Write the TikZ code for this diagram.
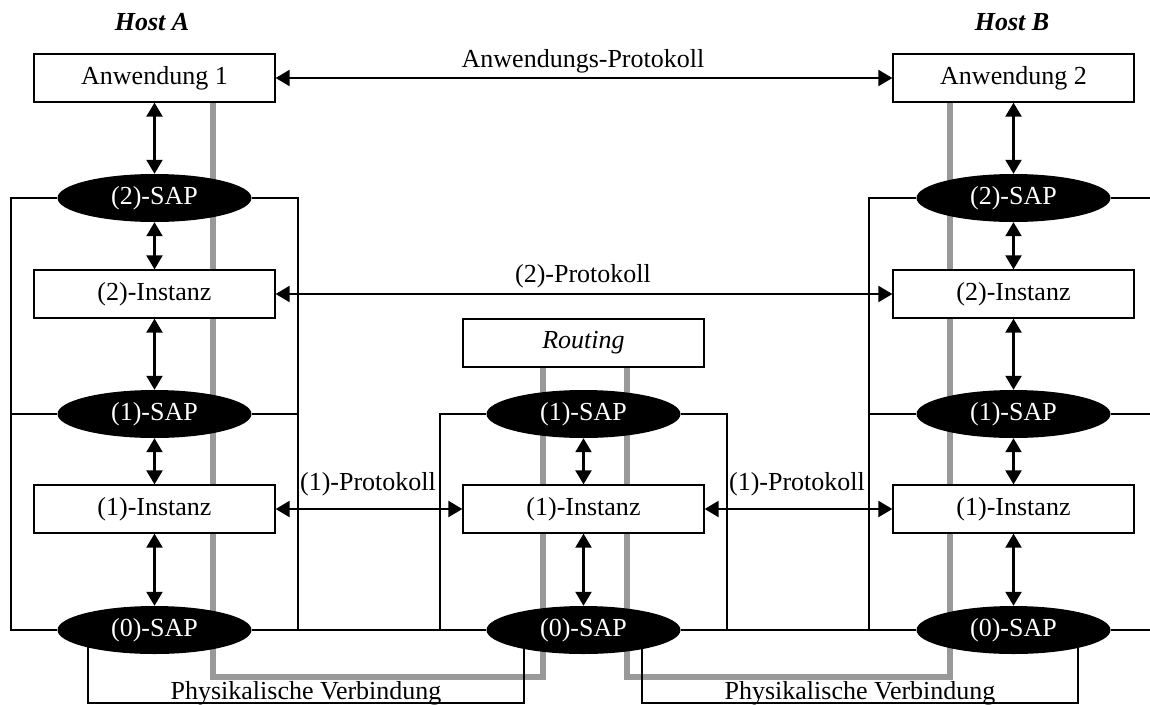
\documentclass[tikz,border=0pt]{standalone}
\usepackage{fontspec}
\setmainfont{Liberation Serif}
\usetikzlibrary{arrows.meta,shapes.geometric,backgrounds}
\definecolor{physgray}{RGB}{153,153,153}
\begin{document}
\begin{tikzpicture}[x=1pt,y=-1pt,
  font=\fontsize{26}{30}\selectfont,
  box/.style={draw, line width=1.3pt, fill=white, minimum width=241pt, minimum height=48pt, inner sep=0pt},
  sap/.style={ellipse, fill=black, text=white, minimum width=194pt, minimum height=48pt, inner sep=0pt},
  frame/.style={line width=1.4pt},
  arr/.style={line width=2.2pt, {Triangle[length=14pt,width=16pt]}-{Triangle[length=14pt,width=16pt]}},
  phys/.style={line width=6pt, draw=physgray, line join=miter},
  lbl/.style={inner sep=0pt},
  host/.style={inner sep=0pt, font=\fontsize{26}{30}\selectfont\bfseries\itshape}
]
\useasboundingbox (0,0) rectangle (1150,704);

% hosts
\node[host] (hostA) at (152,22) {Host A};
\node[host] (hostB) at (1012,22) {Host B};

% host A
\node[box] (anw1) at (154.5,78) {Anwendung 1};
\node[sap] (sap2A) at (154.5,198) {(2)-SAP};
\node[box] (inst2A) at (154.5,294) {(2)-Instanz};
\node[sap] (sap1A) at (154.5,414) {(1)-SAP};
\node[box] (inst1A) at (154.5,509) {(1)-Instanz};
\node[sap] (sap0A) at (154.5,630) {(0)-SAP};

% router
\node[box] (rout) at (583.5,343) {\itshape Routing};
\node[sap] (sap1M) at (583.5,414) {(1)-SAP};
\node[box] (inst1M) at (583.5,509) {(1)-Instanz};
\node[sap] (sap0M) at (583.5,630) {(0)-SAP};

% host B
\node[box] (anw2) at (1013.5,78) {Anwendung 2};
\node[sap] (sap2B) at (1013.5,198) {(2)-SAP};
\node[box] (inst2B) at (1013.5,294) {(2)-Instanz};
\node[sap] (sap1B) at (1013.5,414) {(1)-SAP};
\node[box] (inst1B) at (1013.5,509) {(1)-Instanz};
\node[sap] (sap0B) at (1013.5,630) {(0)-SAP};

% labels
\node[lbl] (lAP) at (583,61) {Anwendungs-Protokoll};
\node[lbl] (l2P) at (583,276) {(2)-Protokoll};
\node[lbl] (l1PA) at (368,484) {(1)-Protokoll};
\node[lbl] (l1PB) at (797,484) {(1)-Protokoll};
\node[lbl, anchor=base] (ph1) at (306,699) {Physikalische Verbindung};
\node[lbl, anchor=base] (ph2) at (860,699) {Physikalische Verbindung};

% vertical arrows
\foreach \a/\b in {anw1/sap2A, sap2A/inst2A, inst2A/sap1A, sap1A/inst1A, inst1A/sap0A,
                   sap1M/inst1M, inst1M/sap0M,
                   anw2/sap2B, sap2B/inst2B, inst2B/sap1B, sap1B/inst1B, inst1B/sap0B}
  \draw[arr] (\a.south) -- (\b.north);

% horizontal arrows
\draw[arr] (anw1.east) -- (anw2.west);
\draw[arr] (inst2A.east) -- (inst2B.west);
\draw[arr] (inst1A.east) -- (inst1M.west);
\draw[arr] (inst1M.east) -- (inst1B.west);

\begin{scope}[on background layer]
  % physical path (gray)
  \draw[phys] (213,102) -- (213,677) -- (543,677) -- (543,533);
  \draw[phys] (543,366) -- (543,485);
  \draw[phys] (627,366) -- (627,485);
  \draw[phys] (627,533) -- (627,677) -- (950,677) -- (950,102);

  % frames host A
  \draw[frame] (sap2A.west) -| (11,630) -- (sap0A.west);
  \draw[frame] (11,414) -- (sap1A.west);
  \draw[frame] (sap2A.east) -| (298,630);
  \draw[frame] (298,414) -- (sap1A.east);
  \draw[frame] (sap0A.east) -- (sap0M.west);
  % frames router
  \draw[frame] (440,630) |- (sap1M.west);
  \draw[frame] (sap1M.east) -| (727,630);
  \draw[frame] (sap0M.east) -- (sap0B.west);
  % frames host B
  \draw[frame] (sap2B.west) -| (869,630);
  \draw[frame] (869,414) -- (sap1B.west);
  \draw[frame] (sap2B.east) -- (1150,198);
  \draw[frame] (sap1B.east) -- (1150,414);
  \draw[frame] (sap0B.east) -- (1150,630);

  % physical connection boxes
  \draw[frame] (88,640) |- (524,703) -- (524,640);
  \draw[frame] (642,640) |- (1078,703) -- (1078,640);
\end{scope}
\end{tikzpicture}
\end{document}
